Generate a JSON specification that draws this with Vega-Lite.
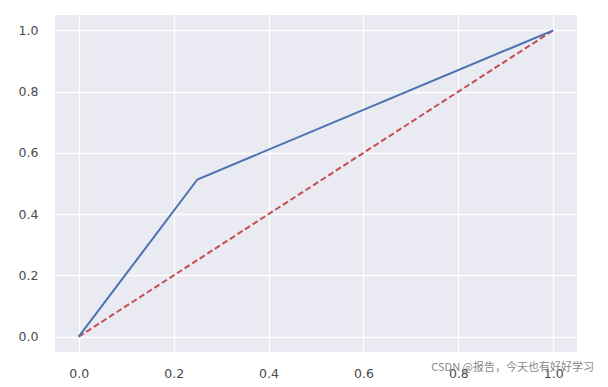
{
  "$schema": "https://vega.github.io/schema/vega-lite/v6.json",
  "width": 522,
  "height": 337,
  "autosize": {"type": "none"},
  "padding": {"left": 55, "top": 15, "right": 31, "bottom": 35},
  "background": "white",
  "config": {
    "view": {"fill": "#eaeaf2", "stroke": null},
    "axis": {
      "grid": true,
      "gridColor": "white",
      "gridWidth": 1.3,
      "domain": false,
      "ticks": false,
      "labelFont": "DejaVu Sans",
      "labelFontSize": 12.5,
      "labelColor": "#4a4a4a",
      "title": null
    }
  },
  "datasets": {
    "roc": [
      {"fpr": 0.0, "tpr": 0.0},
      {"fpr": 0.25, "tpr": 0.513},
      {"fpr": 1.0, "tpr": 1.0}
    ],
    "diag": [
      {"fpr": 0.0, "tpr": 0.0},
      {"fpr": 1.0, "tpr": 1.0}
    ]
  },
  "title": {
    "text": "CSDN @报告，今天也有好好学习",
    "orient": "bottom",
    "anchor": "end",
    "font": "Noto Sans CJK SC",
    "fontSize": 11,
    "fontWeight": "normal",
    "color": "#8a8a8a",
    "offset": -18,
    "dx": 17
  },
  "layer": [
    {
      "data": {"name": "diag"},
      "mark": {"type": "line", "color": "#c44e52", "strokeWidth": 2, "strokeDash": [6, 3]},
      "encoding": {
        "x": {"field": "fpr", "type": "quantitative", "scale": {"domain": [-0.05, 1.05], "nice": false},
              "axis": {"values": [0, 0.2, 0.4, 0.6, 0.8, 1.0], "format": ".1f", "labelPadding": 15}},
        "y": {"field": "tpr", "type": "quantitative", "scale": {"domain": [-0.05, 1.05], "nice": false},
              "axis": {"values": [0, 0.2, 0.4, 0.6, 0.8, 1.0], "format": ".1f", "labelPadding": 17}}
      }
    },
    {
      "data": {"name": "roc"},
      "mark": {"type": "line", "color": "#4c72b0", "strokeWidth": 2},
      "encoding": {
        "x": {"field": "fpr", "type": "quantitative"},
        "y": {"field": "tpr", "type": "quantitative"}
      }
    }
  ]
}
